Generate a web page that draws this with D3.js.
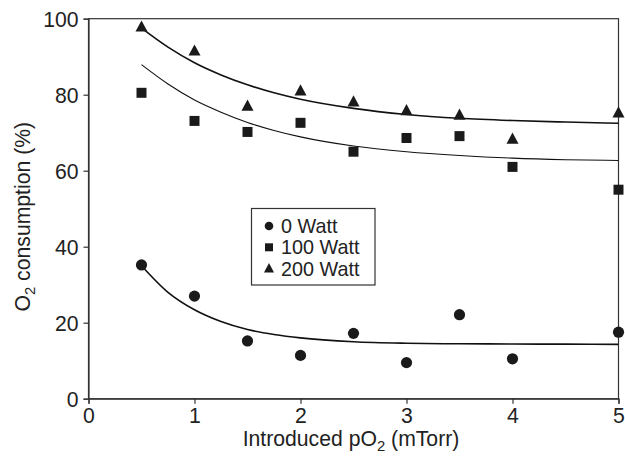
<!DOCTYPE html>
<html><head><meta charset="utf-8">
<script src="https://cdn.jsdelivr.net/npm/d3@7"></script>
<style>body{margin:0;background:#fff}svg{display:block}text{font-family:"Liberation Sans",Arial,sans-serif;fill:#222}</style>
</head><body>
<script>
const pressure = [0.5, 1, 1.5, 2, 2.5, 3, 3.5, 4, 5];
const watt0   = [35.2, 27.0, 15.2, 11.4, 17.2, 9.5, 22.1, 10.5, 17.5];
const watt100 = [80.5, 73.1, 70.2, 72.6, 65.0, 68.6, 69.1, 61.0, 55.0];
const watt200 = [97.8, 91.5, 77.0, 81.0, 78.1, 75.8, 74.6, 68.3, 75.2];
const fitX      = [0.5, 0.75, 1, 1.25, 1.5, 1.75, 2, 2.5, 3, 3.5, 4, 4.5, 5];
const fit0      = [35.0, 28.0, 23.4, 20.3, 18.2, 16.9, 16.0, 15.0, 14.6, 14.45, 14.4, 14.35, 14.3];
const fit100    = [87.9, 82.8, 78.6, 75.4, 72.7, 70.6, 68.9, 66.5, 65.0, 64.0, 63.3, 62.9, 62.7];
const fit200    = [97.5, 92.5, 88.4, 85.2, 82.6, 80.5, 78.8, 76.4, 74.8, 73.8, 73.2, 72.8, 72.5];
const xTicks = [0, 1, 2, 3, 4, 5];
const yTicks = [0, 20, 40, 60, 80, 100];
const legendLabels = ["0 Watt", "100 Watt", "200 Watt"];

const W = 625, H = 456;
const svg = d3.select("body").append("svg").attr("width", W).attr("height", H);
const x = d3.scaleLinear().domain([0, 5]).range([88.5, 618.5]);
const y = d3.scaleLinear().domain([0, 100]).range([398.7, 18.7]);
const axisColor = "#333";

// frame
svg.append("rect").attr("x", x(0)).attr("y", y(100)).attr("width", x(5) - x(0)).attr("height", y(0) - y(100))
  .attr("fill", "none").attr("stroke", axisColor).attr("stroke-width", 1.2);

const fs = 21.2;
const xa = svg.append("g").attr("transform", `translate(0,${y(0)})`)
  .call(d3.axisBottom(x).tickValues(xTicks).tickSize(5).tickPadding(4).tickFormat(d3.format("d")));
const ya = svg.append("g").attr("transform", `translate(${x(0)},0)`)
  .call(d3.axisLeft(y).tickValues(yTicks).tickSize(5).tickPadding(5).tickFormat(d3.format("d")));
[xa, ya].forEach(g => {
  g.select(".domain").attr("stroke", axisColor).attr("stroke-width", 1.2);
  g.selectAll(".tick line").attr("stroke", axisColor).attr("stroke-width", 1.2);
  g.selectAll(".tick text").attr("font-size", fs).attr("fill", "#222").style("font-family", '"Liberation Sans",Arial,sans-serif');
});
ya.selectAll(".tick text").attr("dy", "0.36em");

// titles
const xt = svg.append("text").attr("x", 351).attr("y", 446).attr("text-anchor", "middle").attr("font-size", fs);
xt.append("tspan").text("Introduced pO");
xt.append("tspan").attr("font-size", fs * 0.7).attr("dy", 5).text("2");
xt.append("tspan").attr("dy", -5).text(" (mTorr)");

const yt = svg.append("text").attr("transform", `translate(30,${(y(0) + y(100)) / 2 + 8}) rotate(-90)`)
  .attr("text-anchor", "middle").attr("font-size", fs);
yt.append("tspan").text("O");
yt.append("tspan").attr("font-size", fs * 0.7).attr("dy", 5).text("2");
yt.append("tspan").attr("dy", -5).text(" consumption (%)");

// fit curves
const line = d3.line().x(d => x(d[0])).y(d => y(d[1])).curve(d3.curveMonotoneX);
[[fit0, 1.6], [fit100, 1.1], [fit200, 1.6]].forEach(([vals, sw]) => {
  svg.append("path").attr("d", line(fitX.map((v, i) => [v, vals[i]])))
    .attr("fill", "none").attr("stroke", "#111").attr("stroke-width", sw);
});

// markers
const mk = "#1a1a1a";
const symCircle = d3.symbol().type(d3.symbolCircle).size(Math.PI * 5.6 * 5.6);
const symSquare = d3.symbol().type(d3.symbolSquare).size(100);
const tri = s => `M0,${-s * 0.55}L${s / 2},${s * 0.38}L${-s / 2},${s * 0.38}Z`;
svg.append("g").selectAll("path").data(pressure.map((p, i) => [p, watt0[i]])).join("path")
  .attr("transform", d => `translate(${x(d[0])},${y(d[1])})`).attr("d", symCircle).attr("fill", mk);
svg.append("g").selectAll("path").data(pressure.map((p, i) => [p, watt100[i]])).join("path")
  .attr("transform", d => `translate(${x(d[0])},${y(d[1])})`).attr("d", symSquare).attr("fill", mk);
svg.append("g").selectAll("path").data(pressure.map((p, i) => [p, watt200[i]])).join("path")
  .attr("transform", d => `translate(${x(d[0])},${y(d[1])})`).attr("d", tri(12)).attr("fill", mk);

// legend
const lg = svg.append("g");
lg.append("rect").attr("x", 251.5).attr("y", 208.5).attr("width", 123.5).attr("height", 76.5)
  .attr("fill", "#fff").attr("stroke", axisColor).attr("stroke-width", 1.2);
const legSyms = [d3.symbol().type(d3.symbolCircle).size(Math.PI * 4.3 * 4.3)(),
                 d3.symbol().type(d3.symbolSquare).size(64)(), tri(10)];
legendLabels.forEach((t, i) => {
  const cy = 226 + i * 21.3;
  lg.append("path").attr("transform", `translate(269,${cy})`).attr("d", legSyms[i]).attr("fill", mk);
  lg.append("text").attr("x", 281).attr("y", cy).attr("dy", "0.36em").attr("font-size", 19.8).text(t);
});
</script>
</body></html>
